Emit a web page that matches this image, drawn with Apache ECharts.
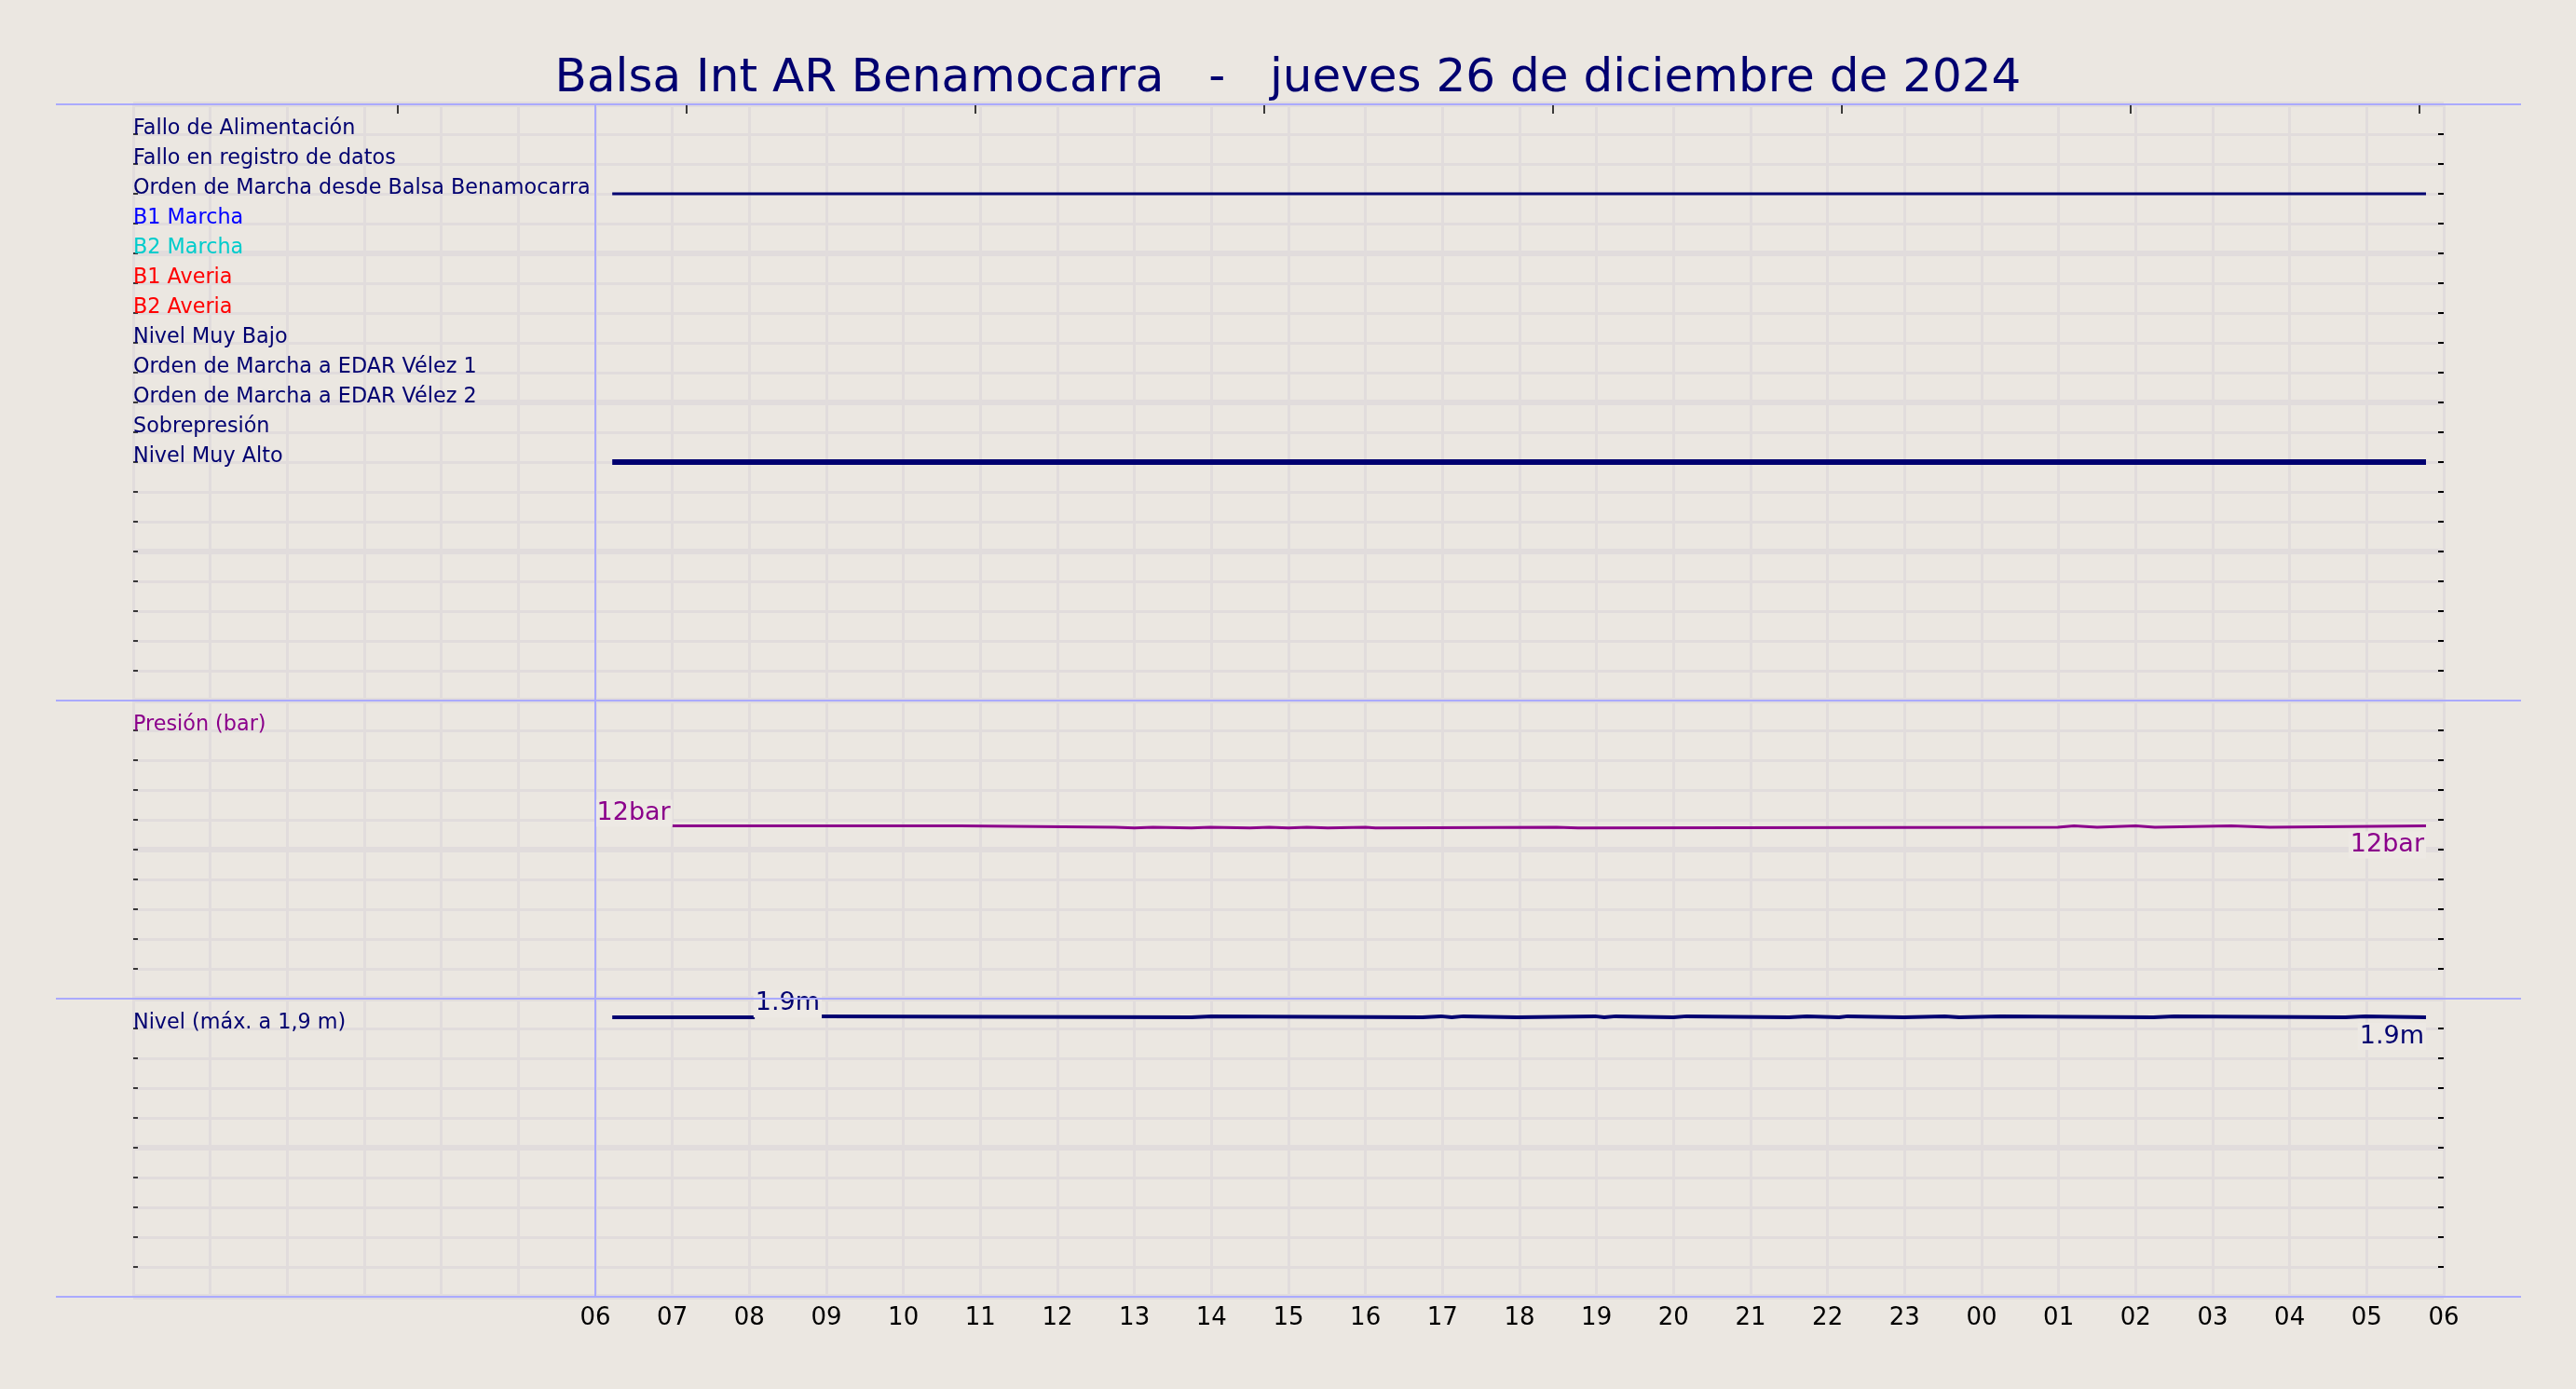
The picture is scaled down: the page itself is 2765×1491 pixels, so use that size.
<!DOCTYPE html>
<html><head><meta charset="utf-8">
<script src="https://cdn.jsdelivr.net/npm/echarts@6/dist/echarts.min.js"></script>
<style>html,body{margin:0;padding:0;background:#ebe7e1}#c{width:2765px;height:1491px}</style>
</head><body><div id="c"></div>
<script>
// ---------- DATA ----------
const titleText = 'Balsa Int AR Benamocarra   -   jueves 26 de diciembre de 2024';
const digitalNames = [
  'Fallo de Alimentación', 'Fallo en registro de datos', 'Orden de Marcha desde Balsa Benamocarra',
  'B1 Marcha', 'B2 Marcha', 'B1 Averia', 'B2 Averia', 'Nivel Muy Bajo',
  'Orden de Marcha a EDAR Vélez 1', 'Orden de Marcha a EDAR Vélez 2', 'Sobrepresión', 'Nivel Muy Alto'
];
const digitalColors = ['#000070','#000070','#000070','#0000ff','#00cccc','#ff0000','#ff0000','#000070','#000070','#000070','#000070','#000070'];
// hours since 00:00 of 26/12/2024
const ordenBalsaTimes = [6.22, 29.77];
const nivelMuyAltoTimes = [6.22, 29.77];
const pressureTimes  = [7.0, 10.74, 12.75, 13.0, 13.24, 13.74, 13.98, 14.5, 14.75, 15.0, 15.24, 15.51, 16.0, 16.13, 18.48, 18.76, 24.99, 25.2, 25.5, 26.0, 26.25, 27.24, 27.74, 29.77];
const pressureValues = [11.6, 11.5, 11.45, 11.5, 11.45, 11.5, 11.45, 11.5, 11.45, 11.5, 11.45, 11.5, 11.45, 11.5, 11.45, 11.5, 11.6, 11.5, 11.6, 11.5, 11.6, 11.5, 11.6, 11.6];
const levelTimes  = [6.22, 8.06, 8.07, 8.94, 9.0, 13.74, 14.0, 16.74, 16.98, 17.12, 17.27, 17.97, 18.98, 19.1, 19.25, 20.0, 20.17, 21.5, 21.73, 22.15, 22.26, 22.99, 23.52, 23.71, 24.25, 26.23, 26.5, 28.72, 28.98, 29.77];
const levelValues = [1.875, 1.875, null, 1.882, 1.875, 1.882, 1.875, 1.882, 1.875, 1.882, 1.875, 1.882, 1.875, 1.882, 1.875, 1.882, 1.875, 1.882, 1.875, 1.882, 1.875, 1.882, 1.875, 1.882, 1.875, 1.882, 1.875, 1.882, 1.875, 1.875];
const levelStartLabelIndex = 3;
const topTickHours = [3.435, 7.185, 10.935, 14.685, 18.435, 22.185, 25.935, 29.685];
const markerHour = 6;

// ---------- STYLE ----------
const NAVY = '#000070', PURPLE = '#8b008b', BG = '#ebe7e1', GRID = '#e1dcdc', BLUE = '#aaaaff';
const FONT = 'DejaVu Sans';
const L = 143, R = 2623, T = 112, H0 = 640, H1 = 320, H2 = 320, W = 2765;
const LINE_L = 60, LINE_R = 2706;

const chart = echarts.init(document.getElementById('c'), null, {renderer: 'canvas'});

function xAx(grid, showLabels) {
  return {
    type: 'value', gridIndex: grid, min: 0, max: 30, interval: 1, position: 'bottom',
    axisLine: {show: false, onZero: false}, axisTick: {show: false},
    splitLine: {show: true, lineStyle: {color: GRID, width: 3}},
    axisLabel: {
      show: showLabels, color: '#000', fontFamily: FONT, fontSize: 26, margin: 10,
      showMinLabel: true, showMaxLabel: true,
      formatter: v => v < 6 ? '' : String(v % 24).padStart(2, '0')
    }
  };
}
function yAxes(grid, min, max, interval, major, labelFn, colorFn) {
  return [
    { type: 'value', gridIndex: grid, min, max, interval, inverse: grid === 0, position: 'left',
      axisLine: {show: false, onZero: false},
      axisTick: {show: true, inside: true, length: 5, lineStyle: {color: '#000', width: 1.5}},
      splitLine: {show: true, lineStyle: {color: GRID, width: 3}},
      axisLabel: {show: true, inside: true, margin: 0, verticalAlign: 'bottom', align: 'left',
        fontFamily: FONT, fontSize: 22.3, lineHeight: 12, formatter: labelFn, color: colorFn} },
    { type: 'value', gridIndex: grid, min, max, interval, position: 'right',
      axisLine: {show: false, onZero: false}, axisLabel: {show: false}, splitLine: {show: false},
      axisTick: {show: true, inside: true, length: 6, lineStyle: {color: '#000', width: 2}} },
    { type: 'value', gridIndex: grid, min, max, interval: major, position: 'left',
      axisLine: {show: false, onZero: false}, axisLabel: {show: false}, axisTick: {show: false},
      splitLine: {show: true, lineStyle: {color: GRID, width: 6}} }
  ];
}

const valueLabelBase = {fontFamily: FONT, fontSize: 27, backgroundColor: '#ede9e4', padding: [1, 2, 1, 2]};
const hiddenSymbol = {symbol: 'circle', symbolSize: 2, itemStyle: {color: 'rgba(0,0,0,0)', borderWidth: 0}};

function stepData(times, values, startIdx, endIdx, fmt, color) {
  return times.map((t, i) => {
    const item = {value: [t, values[i]]};
    if (i === startIdx) Object.assign(item, hiddenSymbol, {label: Object.assign({show: true, position: 'top', align: 'right', distance: -2, color, formatter: fmt}, valueLabelBase)});
    if (i === endIdx) Object.assign(item, hiddenSymbol, {label: Object.assign({show: true, position: 'bottom', align: 'right', distance: 5, color, formatter: fmt}, valueLabelBase)});
    return item;
  });
}

const markerLine = {silent: true, symbol: 'none', label: {show: false}, animation: false,
  lineStyle: {color: BLUE, width: 2, type: 'solid'}, data: [{xAxis: markerHour}]};

const option = {
  backgroundColor: BG,
  animation: false,
  title: {text: titleText, left: 'center', top: 55,
    textStyle: {color: NAVY, fontFamily: FONT, fontSize: 50, fontWeight: 'normal'}},
  grid: [
    {left: L, right: W - R, top: T, height: H0},
    {left: L, right: W - R, top: T + H0, height: H1},
    {left: L, right: W - R, top: T + H0 + H1, height: H2}
  ],
  xAxis: [
    xAx(0, false), xAx(1, false), xAx(2, true),
    { type: 'value', gridIndex: 0, min: 0, max: 30, position: 'top',
      axisLine: {show: false, onZero: false}, axisLabel: {show: false}, splitLine: {show: false},
      axisTick: {show: true, inside: true, length: 10, customValues: topTickHours, lineStyle: {color: '#000', width: 1.5}} }
  ],
  yAxis: [
    ...yAxes(0, 0, 20, 1, 5,
      v => { const n = Number(v); return (n >= 1 && n <= digitalNames.length) ? digitalNames[n - 1] : ''; },
      v => digitalColors[Number(v) - 1] || NAVY),
    ...yAxes(1, 0, 20, 2, 10,
      v => Math.abs(Number(v) - 18) < 1e-6 ? 'Presión (bar)' : '', () => PURPLE),
    ...yAxes(2, 0, 2, 0.2, 1,
      v => Math.abs(Number(v) - 1.8) < 1e-6 ? 'Nivel (máx. a 1,9 m)' : '', () => NAVY)
  ],
  series: [
    { type: 'line', xAxisIndex: 0, yAxisIndex: 0, symbol: 'none', silent: true,
      data: ordenBalsaTimes.map(t => [t, 3]), lineStyle: {color: NAVY, width: 3}, markLine: markerLine },
    { type: 'line', xAxisIndex: 0, yAxisIndex: 0, symbol: 'none', silent: true,
      data: nivelMuyAltoTimes.map(t => [t, 12]), lineStyle: {color: NAVY, width: 6} },
    { type: 'line', xAxisIndex: 1, yAxisIndex: 3, symbol: 'none', step: 'end', silent: true,
      data: stepData(pressureTimes, pressureValues, 0, pressureTimes.length - 1, p => Math.round(p.value[1]) + 'bar', PURPLE),
      lineStyle: {color: PURPLE, width: 3}, markLine: markerLine },
    { type: 'line', xAxisIndex: 2, yAxisIndex: 6, symbol: 'none', step: 'end', silent: true, connectNulls: false,
      data: stepData(levelTimes, levelValues, levelStartLabelIndex, levelTimes.length - 1, p => p.value[1].toFixed(1) + 'm', NAVY),
      lineStyle: {color: NAVY, width: 4}, markLine: markerLine }
  ],
  graphic: [T, T + H0, T + H0 + H1, T + H0 + H1 + H2].map(y => ({
    type: 'line', silent: true, z: 100,
    shape: {x1: LINE_L, y1: y, x2: LINE_R, y2: y},
    style: {stroke: BLUE, lineWidth: 2}
  }))
};
chart.setOption(option);
</script></body></html>
